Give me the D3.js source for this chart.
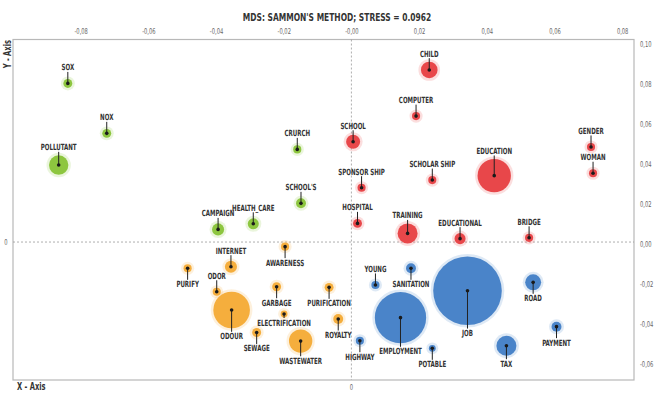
<!DOCTYPE html>
<html><head><meta charset="utf-8">
<script src="https://cdn.jsdelivr.net/npm/d3@7"></script>
<style>
html,body{margin:0;padding:0;background:#fff;}
svg{display:block;}
text{font-family:"Liberation Sans Narrow","DejaVu Sans Condensed","Roboto Condensed","DejaVu Sans",sans-serif;}
</style></head><body>
<svg id="chart" width="665" height="393"></svg>
<script>
// ---- data ----
const terms = ["SOX","NOX","POLLUTANT","CRURCH","SCHOOL'S","CAMPAIGN","HEALTH_CARE",
  "CHILD","COMPUTER","SCHOOL","GENDER","WOMAN","EDUCATION","SCHOLAR SHIP","SPONSOR SHIP","HOSPITAL","TRAINING","EDUCATIONAL","BRIDGE",
  "AWARENESS","INTERNET","PURIFY","ODOR","ODOUR","GARBAGE","ELECTRIFICATION","PURIFICATION","ROYALTY","SEWAGE","WASTEWATER",
  "YOUNG","SANITATION","HIGHWAY","EMPLOYMENT","POTABLE","JOB","TAX","ROAD","PAYMENT"];
const groups = ["g","g","g","g","g","g","g",
  "r","r","r","r","r","r","r","r","r","r","r","r",
  "o","o","o","o","o","o","o","o","o","o","o",
  "b","b","b","b","b","b","b","b","b"];
const xValues = [-0.0838,-0.0723,-0.0865,-0.0160,-0.0149,-0.0394,-0.0290,
  0.0230,0.0191,0.0005,0.0708,0.0714,0.0422,0.0239,0.0030,0.0018,0.0166,0.0321,0.0525,
  -0.0196,-0.0356,-0.0484,-0.0398,-0.0354,-0.0221,-0.0199,-0.0066,-0.0039,-0.0280,-0.0150,
  0.0071,0.0176,0.0025,0.0145,0.0239,0.0343,0.0458,0.0537,0.0606];
const yValues = [0.0791,0.0542,0.0384,0.0462,0.0193,0.0063,0.0091,
  0.0858,0.0628,0.0500,0.0474,0.0343,0.0331,0.0309,0.0271,0.0093,0.0043,0.0017,0.0021,
  -0.0023,-0.0123,-0.0131,-0.0248,-0.0339,-0.0223,-0.0359,-0.0226,-0.0384,-0.0451,-0.0494,
  -0.0214,-0.0131,-0.0492,-0.0377,-0.0530,-0.0243,-0.0517,-0.0201,-0.0422];
const weights = [1.7,1.7,8.0,1.4,2.1,3.1,2.6,
  5.9,1.4,4.2,1.4,1.4,23.7,1.4,1.4,1.7,8.5,2.6,1.4,
  1.4,3.1,1.4,1.4,28.5,1.7,1.0,1.7,2.1,1.7,11.6,
  1.4,2.1,1.4,56,1.0,100,8.5,5.4,2.1];
const xTicks = [-0.08,-0.06,-0.04,-0.02,0,0.02,0.04,0.06,0.08];
const xTickLabels = ["-0,08","-0,06","-0,04","-0,02","-0,00","0,02","0,04","0,06","0,08"];
const yTicks = [0.10,0.08,0.06,0.04,0.02,0,-0.02,-0.04,-0.06];
const yTickLabels = ["0,10","0,08","0,06","0,04","0,02","0,00","-0,02","-0,04","-0,06"];
const title = "MDS: SAMMON'S METHOD; STRESS = 0.0962";

// ---- layout / style ----
const colors = {g:"#8dc63f", r:"#e8474a", o:"#f5ae3d", b:"#4a84c9"};
const labelsBelow = new Set(["AWARENESS","PURIFY","ODOUR","GARBAGE","ELECTRIFICATION","PURIFICATION","ROYALTY","SEWAGE","WASTEWATER",
  "SANITATION","HIGHWAY","EMPLOYMENT","POTABLE","JOB","TAX","ROAD","PAYMENT"]);
const offsetOverride = {"ELECTRIFICATION":8.5};
const SX = 0.72; // horizontal condensing of glyphs

const svg = d3.select("#chart");
const L=13, R=634, T=39.5, B=380;
const x = d3.scaleLinear().domain([-0.1,0.0835]).range([L,R]);
const y = d3.scaleLinear().domain([-0.0688,0.101]).range([B,T]);
const rs = d3.scaleSqrt().domain([0,100]).range([0,34.3]);

const data = terms.map((t,i)=>({name:t, g:groups[i], x:xValues[i], y:yValues[i], w:weights[i]}));

// condensed text helper
function ctext(parent, px, py, str, opts){
  const t = parent.append("text")
    .attr("transform",`translate(${px},${py}) scale(${opts.sx||SX},1)${opts.rot?" rotate("+opts.rot+")":""}`)
    .attr("dy",opts.dy||"0.35em").attr("text-anchor",opts.anchor||"middle")
    .attr("fill",opts.fill||"#333").style("font-size",(opts.size||8)+"px")
    .style("font-weight",opts.bold?"bold":"normal").text(str);
  return t;
}

// frame
svg.append("rect").attr("x",L).attr("y",T).attr("width",R-L).attr("height",B-T)
  .attr("fill","none").attr("stroke","#b8b8b8").attr("stroke-width",1.2);

// zero lines
svg.append("line").attr("x1",L).attr("x2",R).attr("y1",y(0)).attr("y2",y(0))
  .attr("stroke","#9a9a9a").attr("stroke-dasharray","2,2").attr("stroke-width",0.8);
svg.append("line").attr("y1",T).attr("y2",B).attr("x1",x(0)).attr("x2",x(0))
  .attr("stroke","#9a9a9a").attr("stroke-dasharray","2,2").attr("stroke-width",0.8);

// top axis
const topAx = d3.axisTop(x).tickValues(xTicks).tickSize(0).tickPadding(0)
  .tickFormat((d,i)=>xTickLabels[i]);
const gt = svg.append("g").attr("transform",`translate(0,${T-6})`).call(topAx);
gt.select(".domain").remove();
gt.selectAll("text").attr("fill","#666").style("font-size","8px").style("font-family",null)
  .attr("y",0).attr("dy","0em").attr("transform",`scale(${SX},1)`);

// right axis
const rightAx = d3.axisRight(y).tickValues(yTicks).tickSize(0).tickPadding(0)
  .tickFormat((d,i)=>yTickLabels[i]);
const gr = svg.append("g").attr("transform",`translate(${R+6},2)`).call(rightAx);
gr.select(".domain").remove();
gr.selectAll("text").attr("fill","#666").style("font-size","8px").style("font-family",null)
  .attr("x",0).attr("transform",`scale(${SX},1)`);

// zero labels
ctext(svg, 6, y(0), "0", {size:8, fill:"#666"});
ctext(svg, x(0), B+7, "0", {size:8, fill:"#666"});

// axis titles
ctext(svg, 17, 386, "X - Axis", {size:10, anchor:"start", bold:true, sx:0.75});
svg.append("text").attr("transform","translate(11,40) rotate(-90) scale(0.75,1)").attr("text-anchor","end")
  .attr("fill","#333").style("font-size","10px").style("font-weight","bold").text("Y - Axis");

// title
ctext(svg, 337, 17, title, {size:11, bold:true, sx:0.76});

// bubbles
const nodes = svg.append("g").selectAll("g").data(data).join("g")
  .attr("transform",d=>`translate(${x(d.x)},${y(d.y)})`);
nodes.append("circle").attr("r",d=>rs(d.w)+2.5).attr("fill",d=>colors[d.g]).attr("opacity",0.18);
nodes.append("circle").attr("r",d=>rs(d.w)).attr("fill",d=>colors[d.g]);
nodes.each(function(d){
  const g = d3.select(this);
  const r = rs(d.w);
  const below = labelsBelow.has(d.name);
  const off = offsetOverride[d.name] !== undefined ? offsetOverride[d.name] : Math.max(16, r+8);
  const s = below ? 1 : -1;
  g.append("line").attr("x1",0).attr("y1",0).attr("x2",0).attr("y2",s*(off-4.5))
    .attr("stroke","#222").attr("stroke-width",1);
  g.append("circle").attr("r",1.8).attr("fill","#1a1a1a");
  ctext(g, 0, s*off, d.name, {size:8.5, bold:true, fill:"#333"});
});
</script>
</body></html>
